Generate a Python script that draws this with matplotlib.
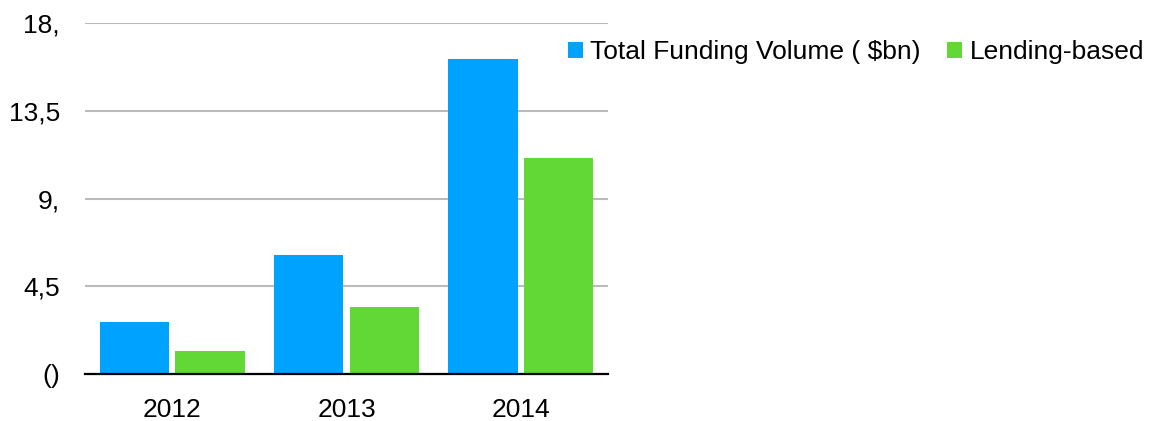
import matplotlib
matplotlib.use("Agg")
import matplotlib.pyplot as plt
import numpy as np

categories = ["2012", "2013", "2014"]
total_funding = [2.67, 6.09, 16.17]
lending_based = [1.16, 3.42, 11.06]
series_names = ["Total Funding Volume ( $bn)", "Lending-based"]
ytick_values = [0, 4.5, 9, 13.5, 18]
ytick_labels = ["()", "4,5", "9,", "13,5", "18,"]

plt.rcParams['font.family'] = ['Liberation Sans', 'DejaVu Sans']

W, H = 1164, 421
fig = plt.figure(figsize=(W / 100, H / 100), dpi=100)
ax = fig.add_axes([85 / W, 1 - 374 / H, (608 - 85) / W, (374 - 23) / H])

x = np.arange(len(categories))
bw = 0.396
off = 0.217
b1 = ax.bar(x - off, total_funding, bw, color="#00A2FF", zorder=3, label=series_names[0])
b2 = ax.bar(x + off, lending_based, bw, color="#61D836", zorder=3, label=series_names[1])

ax.set_xlim(-0.5, 2.5)
ax.set_ylim(0, 18)
ax.set_yticks(ytick_values)
ax.set_yticklabels(ytick_labels)
ax.set_xticks(x)
ax.set_xticklabels(categories)
ax.tick_params(axis='both', length=0, labelsize=19, colors='black')
ax.tick_params(axis='y', pad=18)
ax.tick_params(axis='x', pad=17.5)
ax.yaxis.grid(True, color="#BBBBBB", linewidth=1.5, zorder=0)
for s in ["top", "right", "left"]:
    ax.spines[s].set_visible(False)
ax.spines["bottom"].set_color("black")
ax.spines["bottom"].set_linewidth(1.6)
ax.spines["bottom"].set_zorder(4)

fig.legend(handles=[b1, b2], loc="center left",
           bbox_to_anchor=(568 / W, 1 - 52 / H), ncol=2, frameon=False,
           fontsize=19, handlelength=0.55, handleheight=0.55,
           handletextpad=0.3, columnspacing=1.0, borderaxespad=0, borderpad=0)

fig.savefig("out.png", dpi=100)
